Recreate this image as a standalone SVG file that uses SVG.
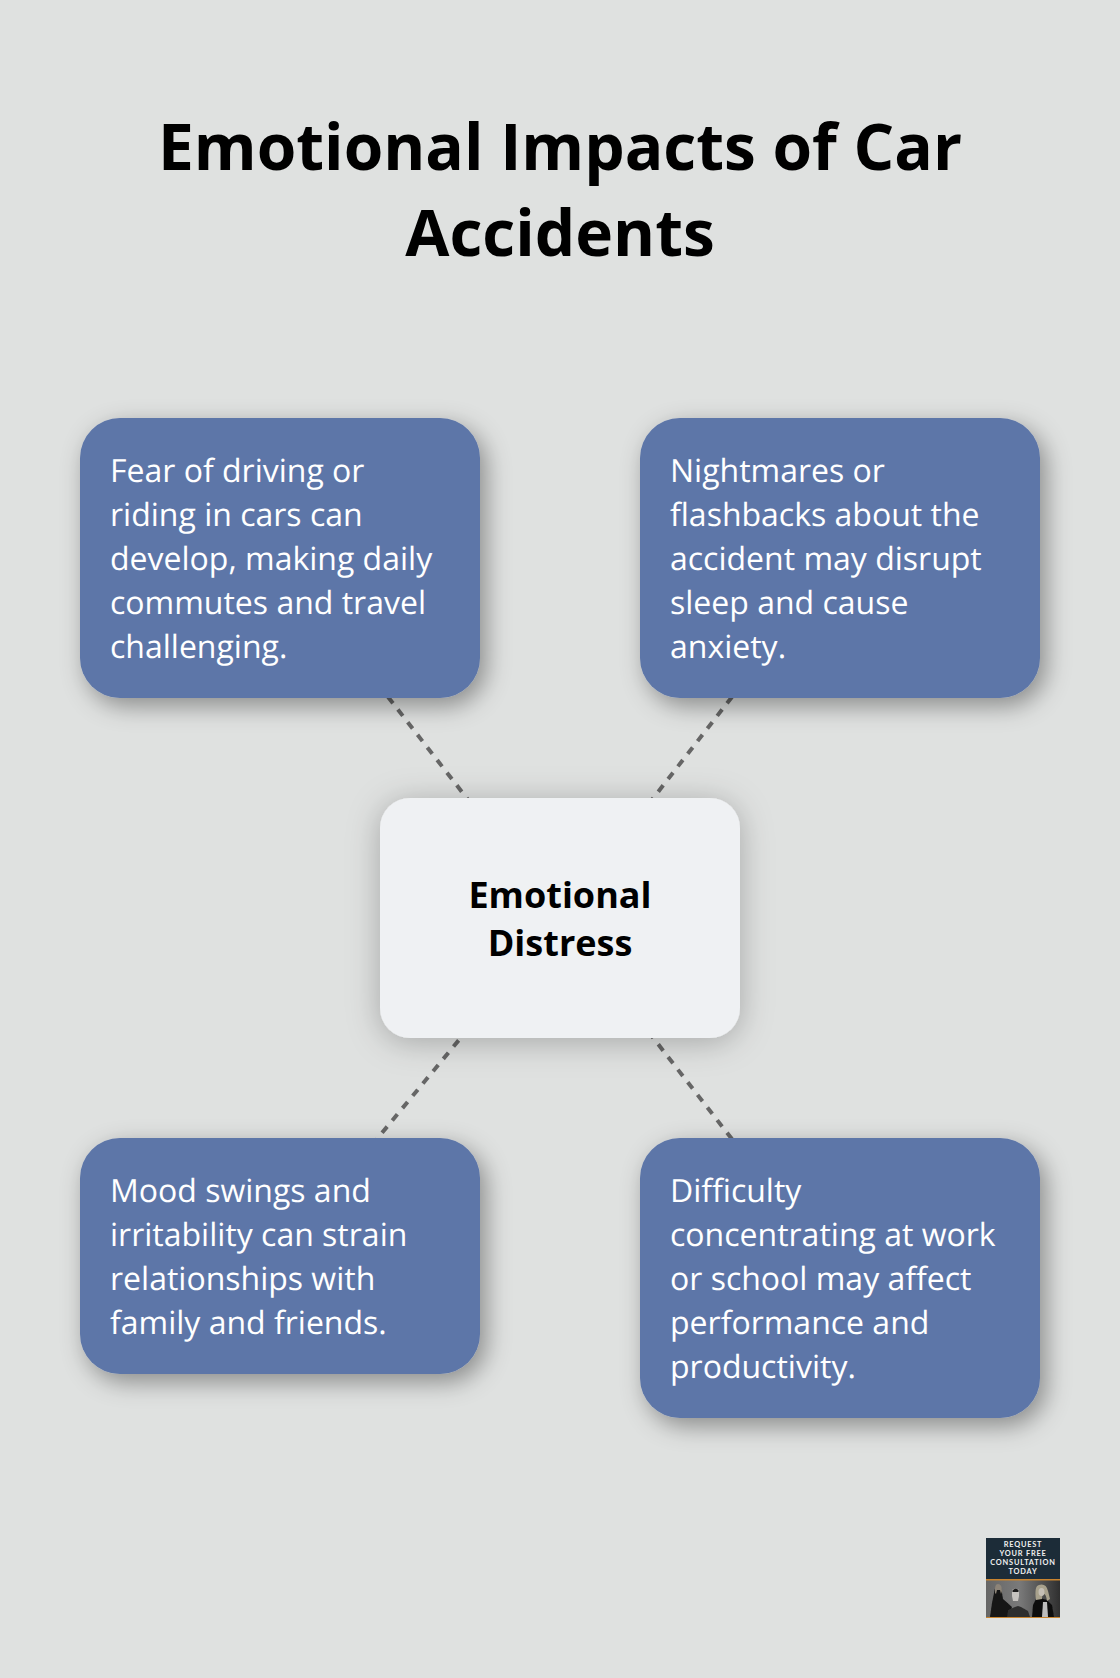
<svg xmlns="http://www.w3.org/2000/svg" width="1120" height="1678" viewBox="0 0 1120 1678">
<style>
text{font-family:"Open Sans","Noto Sans","Liberation Sans",sans-serif}
.title{font-size:64px;font-weight:700;fill:#000;text-anchor:middle}
.body{font-size:32px;fill:#fff;text-rendering:geometricPrecision}
.center{font-size:36px;font-weight:700;fill:#000;text-anchor:middle}
.card{fill:#5d76a8;filter:url(#sh)}
.hub{fill:#eff1f3;filter:url(#sh2)}
.link{stroke:#666;stroke-width:4;stroke-dasharray:8 8;fill:none}
.logo{font-family:"Lato","Liberation Sans",sans-serif;font-size:7.4px;font-weight:700;fill:#f0f0f0;text-anchor:middle;letter-spacing:.8px}
</style>
<defs>
<filter id="sh" x="-25%" y="-25%" width="150%" height="160%"><feDropShadow dx="6" dy="8" stdDeviation="12" flood-color="#000" flood-opacity=".38"/></filter>
<filter id="sh2" x="-25%" y="-25%" width="150%" height="160%"><feDropShadow dx="0" dy="4" stdDeviation="16" flood-color="#000" flood-opacity=".26"/></filter>
<filter id="soft"><feGaussianBlur stdDeviation=".6"/></filter>
<linearGradient id="ph" x1="0" x2="1" y1="0" y2="0"><stop offset="0" stop-color="#666"/><stop offset=".45" stop-color="#7a7a7a"/><stop offset="1" stop-color="#2f2f2f"/></linearGradient>
</defs>
<rect id="background" width="1120" height="1678" fill="#dfe1e0"/>
<g id="title"><text class="title" x="560" y="170">Emotional Impacts of Car</text><text class="title" x="560" y="256">Accidents</text></g>
<g id="connectors">
<line class="link" x1="280" y1="558" x2="560" y2="918"/>
<line class="link" x1="840" y1="558" x2="560" y2="918"/>
<line class="link" x1="280" y1="1256" x2="560" y2="918"/>
<line class="link" x1="840" y1="1278" x2="560" y2="918"/>
</g>
<g id="node-fear"><rect class="card" x="80" y="418" width="400" height="280" rx="40"/>
<text class="body" x="110" y="482">Fear of driving or</text><text class="body" x="110" y="526">riding in cars can</text><text class="body" x="110" y="570">develop, making daily</text><text class="body" x="110" y="614">commutes and travel</text><text class="body" x="110" y="658">challenging.</text></g>
<g id="node-nightmares"><rect class="card" x="640" y="418" width="400" height="280" rx="40"/>
<text class="body" x="670" y="482">Nightmares or</text><text class="body" x="670" y="526">flashbacks about the</text><text class="body" x="670" y="570">accident may disrupt</text><text class="body" x="670" y="614">sleep and cause</text><text class="body" x="670" y="658">anxiety.</text></g>
<g id="node-center"><rect class="hub" x="380" y="798" width="360" height="240" rx="30"/>
<text class="center" x="560" y="908">Emotional</text><text class="center" x="560" y="956">Distress</text></g>
<g id="node-mood"><rect class="card" x="80" y="1138" width="400" height="236" rx="40"/>
<text class="body" x="110" y="1202">Mood swings and</text><text class="body" x="110" y="1246">irritability can strain</text><text class="body" x="110" y="1290">relationships with</text><text class="body" x="110" y="1334">family and friends.</text></g>
<g id="node-concentration"><rect class="card" x="640" y="1138" width="400" height="280" rx="40"/>
<text class="body" x="670" y="1202">Difficulty</text><text class="body" x="670" y="1246">concentrating at work</text><text class="body" x="670" y="1290">or school may affect</text><text class="body" x="670" y="1334">performance and</text><text class="body" x="670" y="1378">productivity.</text></g>
<g id="logo">
<rect x="986" y="1538" width="74" height="41" fill="#1c2c38"/>
<rect x="986" y="1580" width="74" height="37" fill="url(#ph)"/>
<rect x="986" y="1579" width="74" height="1.5" fill="#c8842f"/>
<rect x="986" y="1617" width="74" height="1" fill="#c8842f"/>
<text class="logo" x="1023" y="1547">REQUEST</text><text class="logo" x="1023" y="1556">YOUR FREE</text><text class="logo" x="1023" y="1565">CONSULTATION</text><text class="logo" x="1023" y="1574">TODAY</text>
<g filter="url(#soft)">
<path d="M990 1617l2-14 2-10q1-8 4-8 4 1 4 8l1 6 9 8-3 10z" fill="#141414"/>
<path d="M995 1593q-1-9 3-9 4 0 4 7l-1 3-1-4-3 0-1 4z" fill="#8d8478"/>
<path d="M1007 1617l1-7 7-3 3-1 3 1 7 4 2 6z" fill="#2e2e2e"/>
<path d="M1012 1590q4-3 7 0v6l-1 5h-5l-1-5z" fill="#c6c3bf"/>
<path d="M1012 1591q4-5 7 0l-1 1h-5z" fill="#1e1e1e"/>
<path d="M1032 1617l1-12 3-6 4-1 7 2 5 5 2 12z" fill="#0f0f0f"/>
<path d="M1036 1600q-2-14 3-15 7-2 9 6l2 8-3 2q-1-7-3-7-2 0-2 5z" fill="#a8a18c"/>
<ellipse cx="1041.500" cy="1592" rx="3" ry="4" fill="#c5bfb5"/>
<path d="M1043 1602h4l1 15h-6z" fill="#bdbdbd"/>
</g>
</g>
</svg>
